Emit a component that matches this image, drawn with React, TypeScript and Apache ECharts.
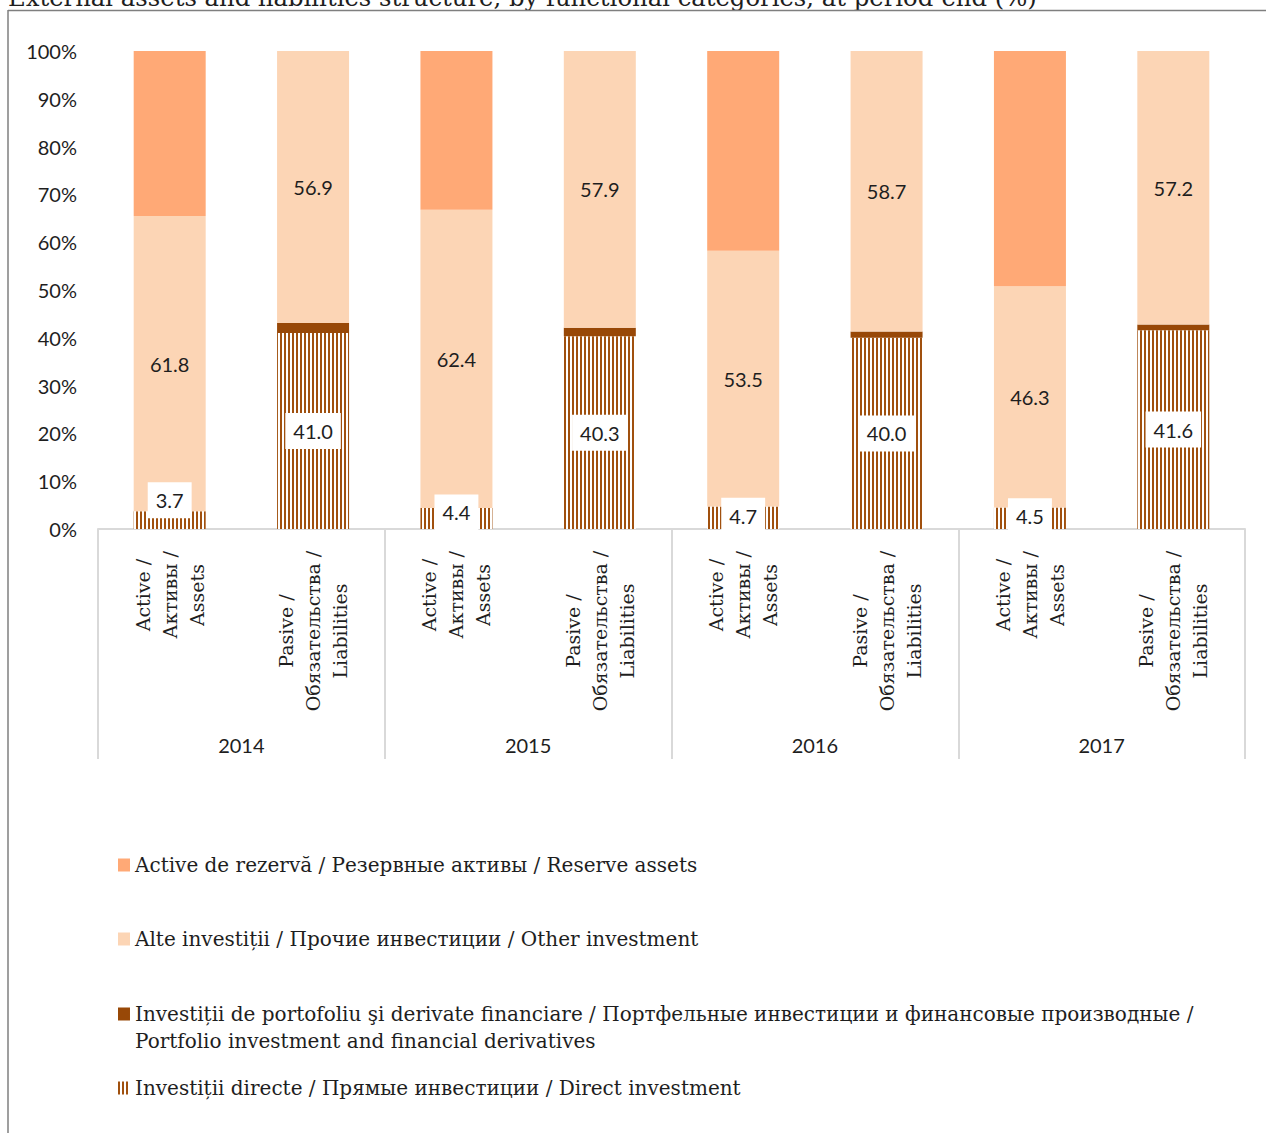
import React, { useEffect, useRef } from "react";
import * as echarts from "echarts";

// ---- data ----
const categories = [
  "Active /\nАктивы /\nAssets",
  "Pasive /\nОбязательства /\nLiabilities",
  "Active /\nАктивы /\nAssets",
  "Pasive /\nОбязательства /\nLiabilities",
  "Active /\nАктивы /\nAssets",
  "Pasive /\nОбязательства /\nLiabilities",
  "Active /\nАктивы /\nAssets",
  "Pasive /\nОбязательства /\nLiabilities",
];
const years = ["2014", "2015", "2016", "2017"];
const directInvestment = [3.7, 41.0, 4.4, 40.3, 4.7, 40.0, 4.5, 41.6];
const portfolioInvestment = [0, 2.1, 0, 1.8, 0, 1.3, 0, 1.2];
const otherInvestment = [61.8, 56.9, 62.4, 57.9, 53.5, 58.7, 46.3, 57.2];
const reserveAssets = [34.5, 0, 33.2, 0, 41.8, 0, 49.2, 0];

const nameReserve = "Active de rezervă / Резервные активы / Reserve assets";
const nameOther = "Alte investiții / Прочие инвестиции / Other investment";
const namePortfolio =
  "Investiții de portofoliu şi derivate financiare / Портфельные инвестиции и финансовые производные / Portfolio investment and financial derivatives";
const nameDirect = "Investiții directe / Прямые инвестиции / Direct investment";

// label vertical nudges for the small direct-investment labels (style only)
const directLabelShift = [-20, 0, -6, 0, -2, 0, -2, 0];

const SERIF = "'DejaVu Serif', serif";
const SANS = "Lato, 'Open Sans', sans-serif";
const TXT = "#1e1e1e";

export default function App() {
  const ref = useRef<HTMLDivElement>(null);
  useEffect(() => {
    if (!ref.current) return;
    const chart = echarts.init(ref.current, undefined, { renderer: "svg" });
    const legendText = { fontFamily: SERIF, fontSize: 20, color: TXT, lineHeight: 27 };
    const legendBase = { left: 118, orient: "vertical", padding: 0, itemGap: 0 };
    const option: any = {
      animation: false,
      backgroundColor: "#fff",
      grid: { left: 98, right: 21, top: 51, bottom: 604, containLabel: false },
      graphic: [
        {
          type: "text",
          style: {
            x: 8,
            y: 9,
            text: "External assets and liabilities structure, by functional categories, at period-end (%)",
            fontFamily: SERIF,
            fontSize: 24.3,
            fill: TXT,
            verticalAlign: "bottom",
          },
        },
        { type: "line", shape: { x1: 8, y1: 10.5, x2: 1266, y2: 10.5 }, style: { stroke: "#7f7f7f", lineWidth: 1.5 } },
        { type: "line", shape: { x1: 8, y1: 10, x2: 8, y2: 1133 }, style: { stroke: "#7f7f7f", lineWidth: 1.5 } },
      ],
      xAxis: [
        {
          type: "category",
          data: categories.map((c, i) => ({
            value: c,
            textStyle:
              i % 2 === 1
                ? { align: "center", verticalAlign: "middle", padding: [0, 72, 0, 0] }
                : { align: "center", verticalAlign: "middle", padding: 0 },
          })),
          position: "bottom",
          axisLine: { show: true, lineStyle: { color: "#D9D9D9", width: 2 } },
          axisTick: { show: false },
          axisLabel: {
            interval: 0,
            rotate: 90,
            margin: 66,
            fontFamily: SERIF,
            fontSize: 19,
            lineHeight: 27,
            color: TXT,
          },
          splitLine: { show: false },
        },
        {
          type: "category",
          data: years,
          position: "bottom",
          axisLine: { show: false },
          axisTick: { show: true, interval: 0, length: 230, lineStyle: { color: "#D9D9D9", width: 2 } },
          axisLabel: { interval: 0, margin: 206, fontFamily: SANS, fontSize: 20, color: TXT },
          splitLine: { show: false },
        },
      ],
      yAxis: {
        type: "value",
        min: 0,
        max: 100,
        interval: 10,
        axisLine: { show: false },
        axisTick: { show: false },
        splitLine: { show: false },
        axisLabel: { formatter: "{value}%", margin: 21, fontFamily: SANS, fontSize: 20, color: TXT },
      },
      legend: [
        {
          ...legendBase,
          data: [nameReserve],
          top: 851.5,
          itemWidth: 12,
          itemHeight: 13,
          icon: "rect",
          textStyle: legendText,
        },
        {
          ...legendBase,
          data: [nameOther],
          top: 925.5,
          itemWidth: 12,
          itemHeight: 13,
          icon: "rect",
          textStyle: legendText,
        },
        {
          ...legendBase,
          data: [namePortfolio],
          top: 1000.5,
          itemWidth: 12,
          itemHeight: 40,
          icon: "path://M0,0h12v13h-12z M0,40h0.05v0.05h-0.05z",
          formatter: () =>
            "Investiții de portofoliu şi derivate financiare / Портфельные инвестиции и финансовые производные /\nPortfolio investment and financial derivatives",
          textStyle: legendText,
        },
        {
          ...legendBase,
          data: [nameDirect],
          top: 1074.5,
          itemWidth: 12,
          itemHeight: 13,
          icon: "rect",
          textStyle: legendText,
        },
      ],
      series: [
        {
          name: nameDirect,
          type: "bar",
          stack: "total",
          barWidth: 72,
          data: directInvestment.map((v, i) => ({ value: v, label: { offset: [0, directLabelShift[i]] } })),
          itemStyle: {
            color: "#ffffff",
            decal: {
              symbol: "rect",
              symbolSize: 1,
              color: "#A0500E",
              dashArrayX: [1.25, 1.25],
              dashArrayY: [1, 0],
              rotation: 0,
            },
          },
          label: {
            show: true,
            position: "inside",
            formatter: (p: any) => Number(p.value).toFixed(1),
            backgroundColor: "#ffffff",
            padding: [8, 8],
            lineHeight: 20,
            fontFamily: SANS,
            fontSize: 20,
            color: TXT,
          },
        },
        {
          name: namePortfolio,
          type: "bar",
          stack: "total",
          barWidth: 72,
          data: portfolioInvestment,
          itemStyle: { color: "#984807" },
        },
        {
          name: nameOther,
          type: "bar",
          stack: "total",
          barWidth: 72,
          data: otherInvestment,
          itemStyle: { color: "#FCD5B5" },
          label: {
            show: true,
            position: "inside",
            formatter: (p: any) => Number(p.value).toFixed(1),
            fontFamily: SANS,
            fontSize: 20,
            color: TXT,
          },
        },
        {
          name: nameReserve,
          type: "bar",
          stack: "total",
          barWidth: 72,
          data: reserveAssets,
          itemStyle: { color: "#FFA976" },
        },
      ],
    };
    chart.setOption(option);
    return () => chart.dispose();
  }, []);
  return (
    <div
      ref={ref}
      style={{ position: "absolute", left: 0, top: 0, width: 1266, height: 1133 }}
    />
  );
}
